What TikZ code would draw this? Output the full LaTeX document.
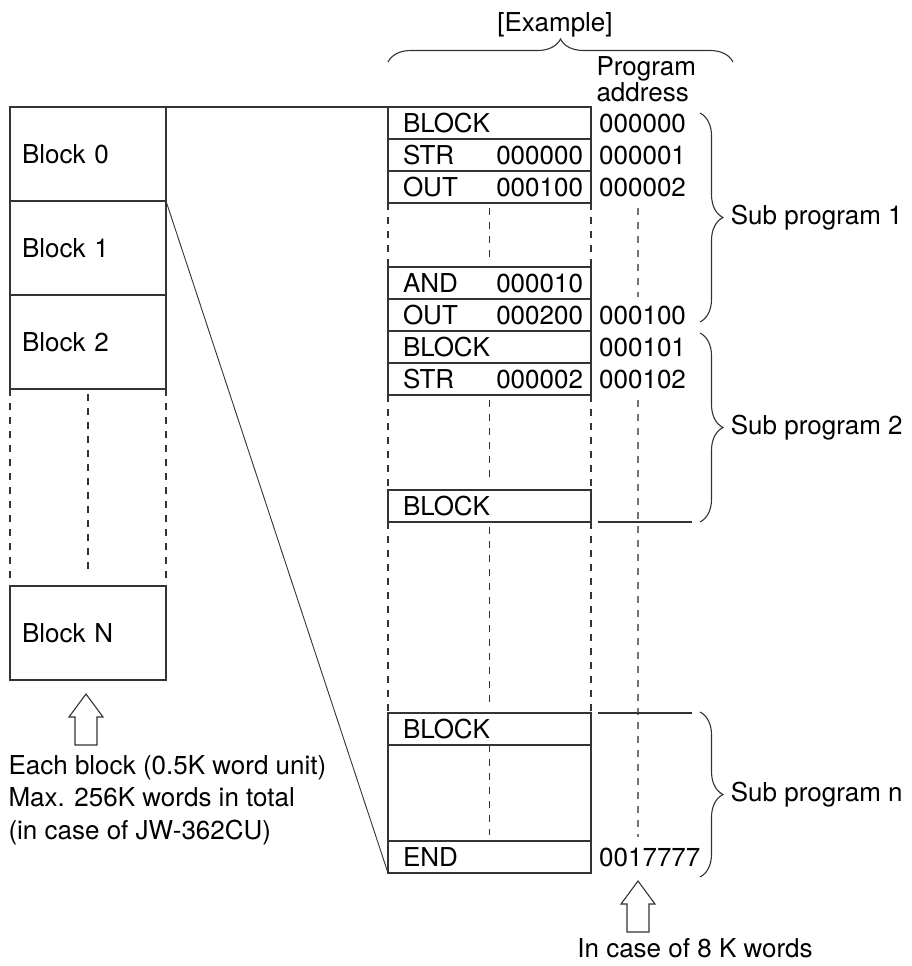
\documentclass[tikz,border=0pt]{standalone}
\usepackage{fontspec}
\setmainfont{TeX Gyre Heros}
\usetikzlibrary{positioning,decorations.pathreplacing}
\definecolor{linegray}{HTML}{333333}
\tikzset{
  txt/.style={font=\fontsize{26}{32.5}\selectfont, text=black},
  memblock/.style={txt, draw=linegray, line width=1.1pt, outer sep=0pt, inner xsep=12pt, inner ysep=0pt, text width=132pt, minimum height=94pt, align=left},
  progrow/.style={txt, draw=linegray, line width=1.1pt, outer sep=0pt, inner xsep=8pt, inner ysep=0pt, text width=187pt, minimum height=32pt, align=left, execute at begin node={\noindent\hspace*{7pt}}},
  addr/.style={txt, inner sep=0pt},
  solidline/.style={linegray, line width=1.1pt},
  dashline/.style={linegray, line width=1.1pt, dash pattern=on 7pt off 7pt},
  addrline/.style={black!55, line width=1.1pt, dash pattern=on 7pt off 7pt},
  brace/.style={decorate, decoration={brace, amplitude=23pt}, linegray, line width=1.1pt},
  hollowarrow/.style={linegray, line width=1.1pt, fill=white, line join=miter}
}

\begin{document}
\begin{tikzpicture}[x=1pt,y=-1pt]
  \useasboundingbox (0,0) rectangle (912,966);
  % memory blocks
  \node[memblock, anchor=north west] (blk0) at (10,107) {Block 0};
  \node[memblock, below=0pt of blk0] (blk1) {Block 1};
  \node[memblock, below=0pt of blk1] (blk2) {Block 2};
  \node[memblock, anchor=north west] (blkN) at (10,586) {Block N};
  % program rows
  \node[progrow, anchor=north west] (r0) at (388,107) {BLOCK};
  \node[progrow, below=0pt of r0] (r1) {STR\hfill 000000};
  \node[progrow, below=0pt of r1] (r2) {OUT\hfill 000100};
  \node[progrow, anchor=north west] (r3) at (388,267) {AND\hfill 000010};
  \node[progrow, below=0pt of r3] (r4) {OUT\hfill 000200};
  \node[progrow, below=0pt of r4] (r5) {BLOCK};
  \node[progrow, below=0pt of r5] (r6) {STR\hfill 000002};
  \node[progrow, anchor=north west] (r7) at (388,490) {BLOCK};
  \node[progrow, anchor=north west] (r8) at (388,713) {BLOCK};
  \node[progrow, below=0pt of r8, minimum height=96pt] (r9) {};
  \node[progrow, below=0pt of r9] (r10) {END};
  % addresses
  \node[addr, right=8pt of r0.east] (a0) {000000};
  \node[addr, right=8pt of r1.east] (a1) {000001};
  \node[addr, right=8pt of r2.east] (a2) {000002};
  \node[addr, right=8pt of r4.east] (a4) {000100};
  \node[addr, right=8pt of r5.east] (a5) {000101};
  \node[addr, right=8pt of r6.east] (a6) {000102};
  \node[addr, right=8pt of r10.east] (a10) {0017777};
  \node[txt, anchor=base west] (hdr1) at (593,75) {Program};
  \node[txt, anchor=base west] (hdr2) at (593,101) {address};
  \node[txt] (ex) at (555,25) {[Example]};

  \draw[solidline] (blk0.north east) -- (r0.north west);
  \draw[solidline, line width=0.9pt] (blk0.south east) -- (r10.south west);
  % dashed continuation of the memory
  \draw[dashline] (blk2.south west) -- (blkN.north west);
  \draw[dashline] (blk2.south east) -- (blkN.north east);
  \draw[dashline, shorten <=5pt, shorten >=11pt] (blk2.south) -- (blkN.north);
  % gaps in the program
  \foreach \a/\b in {r2/r3, r6/r7, r7/r8}{
    \draw[dashline] (\a.south west) -- (\b.north west);
    \draw[dashline] (\a.south east) -- (\b.north east);
    \draw[dashline, shorten <=5pt, shorten >=6pt] (\a.south) -- (\b.north);
  }
  \draw[dashline, shorten >=6pt] (r9.north) -- (r9.south);
  % address column
  \draw[addrline, shorten <=5pt, shorten >=2pt] ([xshift=47pt]r2.south east) -- ([xshift=47pt]r3.south east);
  \draw[addrline, shorten <=5pt, shorten >=4pt] ([xshift=47pt]r6.south east) -- ([xshift=47pt]r9.south east);
  \draw[solidline] ([xshift=7pt]r7.south east) -- ([xshift=101pt]r7.south east);
  \draw[solidline] ([xshift=7pt]r8.north east) -- ([xshift=101pt]r8.north east);

  % braces
  \draw[brace] (388,62) -- (733,62);
  \draw[brace] (700,113) -- (700,322) node[txt, midway, right=27pt] (sp1) {Sub program 1};
  \draw[brace] (700,333) -- (700,522) node[txt, midway, right=27pt] (sp2) {Sub program 2};
  \draw[brace] (700,712) -- (700,877) node[txt, midway, right=27pt] (spn) {Sub program n};

  % hollow arrows
  \foreach \tx/\ty in {86/694, 638/881}
    \draw[hollowarrow] (\tx,\ty) -- ++(17,23) -- ++(-6,0) -- ++(0,28) -- ++(-22,0) -- ++(0,-28) -- ++(-6,0) -- cycle;
  \node[txt, anchor=north west, align=left] (note) at (5,752) {Each block (0.5K word unit)\\Max. 256K words in total\\(in case of JW-362CU)};
  \node[txt] (kw) at (695,948) {In case of 8 K words};
\end{tikzpicture}
\end{document}
